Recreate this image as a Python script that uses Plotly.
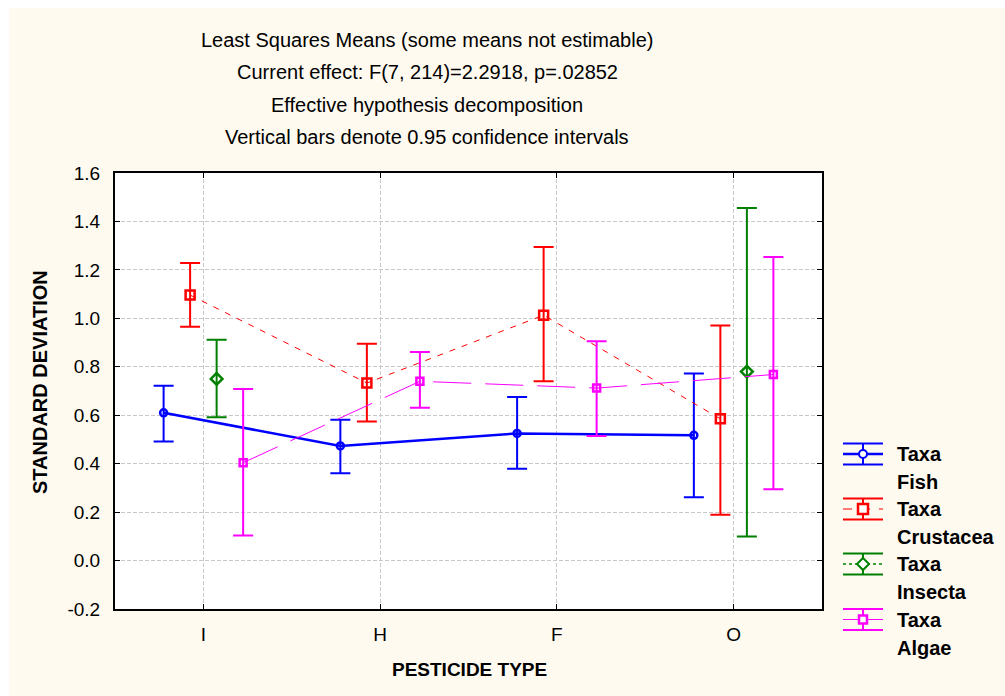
import plotly.graph_objects as go

# ---- data -------------------------------------------------------------
categories = ["I", "H", "F", "O"]

fish_mean = [0.610, 0.473, 0.525, 0.517]
fish_upper = [0.722, 0.581, 0.675, 0.772]
fish_lower = [0.492, 0.360, 0.379, 0.261]

crus_mean = [1.096, 0.733, 1.013, 0.585]
crus_upper = [1.228, 0.895, 1.294, 0.970]
crus_lower = [0.965, 0.574, 0.740, 0.189]

insect_mean = [0.750, None, None, 0.780]
insect_upper = [0.912, None, None, 1.455]
insect_lower = [0.592, None, None, 0.099]

algae_mean = [0.404, 0.740, 0.712, 0.768]
algae_upper = [0.708, 0.861, 0.905, 1.253]
algae_lower = [0.103, 0.631, 0.514, 0.294]

y_tick_values = [-0.2, 0.0, 0.2, 0.4, 0.6, 0.8, 1.0, 1.2, 1.4, 1.6]
y_tick_labels = ["-0.2", "0.0", "0.2", "0.4", "0.6", "0.8", "1.0", "1.2", "1.4", "1.6"]

title_lines = [
    "Least Squares Means (some means not estimable)",
    "Current effect: F(7, 214)=2.2918, p=.02852",
    "Effective hypothesis decomposition",
    "Vertical bars denote 0.95 confidence intervals",
]

# ---- layout geometry (pixels) -----------------------------------------
W, H = 1005, 696
L, R, T, B = 115, 822, 173, 609
FONT = "Liberation Sans, Arial, sans-serif"
BG = "#fffaf0"


def px(x):
    return (x - L) / (R - L)


def py(y):
    return (B - y) / (B - T)


def err_up(mean, upper):
    return [None if m is None else u - m for m, u in zip(mean, upper)]


def err_dn(mean, lower):
    return [None if m is None else m - lo for m, lo in zip(mean, lower)]


series = [
    dict(name="Fish", mean=fish_mean, up=fish_upper, lo=fish_lower, off=-0.225,
         color="#0000ff", lw=2.5, dash="solid", leg_dash="solid",
         symbol="circle-open", msize=7),
    dict(name="Crustacea", mean=crus_mean, up=crus_upper, lo=crus_lower, off=-0.075,
         color="#ff0000", lw=1, dash="6px,7px", leg_dash="dash",
         symbol="square-open", msize=9),
    dict(name="Insecta", mean=insect_mean, up=insect_upper, lo=insect_lower, off=0.075,
         color="#008000", lw=1.5, dash="dot", leg_dash="dot",
         symbol="diamond-open", msize=9),
    dict(name="Algae", mean=algae_mean, up=algae_upper, lo=algae_lower, off=0.225,
         color="#ff00ff", lw=1, dash="38px,14px", leg_dash="solid",
         symbol="square-open", msize=7),
]

fig = go.Figure()
for s in series:
    xs = [i + s["off"] for i in range(len(categories))]
    fig.add_trace(go.Scatter(
        x=xs, y=s["mean"], name="Taxa " + s["name"], mode="lines+markers",
        connectgaps=False,
        line=dict(color=s["color"], width=s["lw"], dash=s["dash"]),
        marker=dict(symbol=s["symbol"], size=s["msize"], color=s["color"],
                    line=dict(width=2.5, color=s["color"])),
        error_y=dict(type="data", symmetric=False,
                     array=err_up(s["mean"], s["up"]),
                     arrayminus=err_dn(s["mean"], s["lo"]),
                     color=s["color"], thickness=2, width=10),
        showlegend=False,
    ))

shapes = []
annotations = []

# thin white strips along the top and left edges
shapes.append(dict(type="rect", xref="paper", yref="paper", layer="below",
                   x0=px(0), x1=px(W), y0=py(0), y1=py(8),
                   fillcolor="white", line=dict(width=0)))
shapes.append(dict(type="rect", xref="paper", yref="paper", layer="below",
                   x0=px(0), x1=px(9), y0=py(0), y1=py(H),
                   fillcolor="white", line=dict(width=0)))

# stacked title lines
for i, line in enumerate(title_lines):
    annotations.append(dict(text=line, xref="paper", yref="paper",
                            x=px(427), y=py(40 + i * 32.3), showarrow=False,
                            xanchor="center", yanchor="middle",
                            font=dict(family=FONT, size=20, color="black")))

# axis titles
annotations.append(dict(text="<b>STANDARD DEVIATION</b>", xref="paper", yref="paper",
                        x=px(40), y=py(382), textangle=-90, showarrow=False,
                        xanchor="center", yanchor="middle",
                        font=dict(family=FONT, size=20, color="black")))
annotations.append(dict(text="<b>PESTICIDE TYPE</b>", xref="paper", yref="paper",
                        x=px(469), y=py(669), showarrow=False,
                        xanchor="center", yanchor="middle",
                        font=dict(family=FONT, size=19, color="black")))

# legend drawn with shapes: caps, stem, series line, marker
leg_centers = [454, 509, 564, 619.5]
x0, x1, xm = 843, 883, 863
for s, c in zip(series, leg_centers):
    col = s["color"]
    for yy in (c - 10.5, c + 10.5):
        shapes.append(dict(type="line", xref="paper", yref="paper",
                           x0=px(x0), x1=px(x1), y0=py(yy), y1=py(yy),
                           line=dict(color=col, width=2)))
    shapes.append(dict(type="line", xref="paper", yref="paper",
                       x0=px(xm), x1=px(xm), y0=py(c - 10.5), y1=py(c + 10.5),
                       line=dict(color=col, width=2)))
    shapes.append(dict(type="line", xref="paper", yref="paper",
                       x0=px(x0), x1=px(x1), y0=py(c), y1=py(c),
                       line=dict(color=col, width=s["lw"], dash=s["leg_dash"])))
    r = {"Fish": 4, "Crustacea": 5, "Insecta": 6, "Algae": 4}[s["name"]]
    if s["name"] == "Fish":
        shapes.append(dict(type="circle", xref="paper", yref="paper",
                           x0=px(xm - r), x1=px(xm + r), y0=py(c - r), y1=py(c + r),
                           fillcolor="white", line=dict(color=col, width=2)))
    elif s["name"] == "Insecta":
        path = "M {} {} L {} {} L {} {} L {} {} Z".format(
            px(xm), py(c - r), px(xm + r), py(c), px(xm), py(c + r), px(xm - r), py(c))
        shapes.append(dict(type="path", xref="paper", yref="paper", path=path,
                           fillcolor="white", line=dict(color=col, width=2)))
    else:
        shapes.append(dict(type="rect", xref="paper", yref="paper",
                           x0=px(xm - r), x1=px(xm + r), y0=py(c - r), y1=py(c + r),
                           fillcolor="white", line=dict(color=col, width=2.5)))
    annotations.append(dict(text="<b>Taxa</b>", xref="paper", yref="paper",
                            x=px(895), y=py(c), showarrow=False,
                            xanchor="left", yanchor="middle",
                            font=dict(family=FONT, size=20, color="black")))
    annotations.append(dict(text="<b>" + s["name"] + "</b>", xref="paper", yref="paper",
                            x=px(895), y=py(c + 28), showarrow=False,
                            xanchor="left", yanchor="middle",
                            font=dict(family=FONT, size=20, color="black")))

grid = dict(showgrid=True, gridcolor="#c8c8c8", gridwidth=1, griddash="4px,2px")
fig.update_layout(
    width=W, height=H,
    margin=dict(l=L, r=W - R, t=T, b=H - B, pad=0),
    paper_bgcolor=BG, plot_bgcolor="white",
    font=dict(family=FONT, size=19, color="black"),
    xaxis=dict(range=[-0.5, 3.5], tickvals=list(range(len(categories))),
               ticktext=categories, ticks="inside", ticklen=5, tickcolor="black",
               showline=True, linecolor="black", linewidth=2, mirror="ticks",
               zeroline=False, ticklabelstandoff=7, **grid),
    yaxis=dict(range=[-0.2, 1.6], tickvals=y_tick_values, ticktext=y_tick_labels,
               ticks="inside", ticklen=5, tickcolor="black",
               showline=True, linecolor="black", linewidth=2, mirror="ticks",
               zeroline=False, ticklabelstandoff=9, **grid),
    shapes=shapes, annotations=annotations, showlegend=False,
)

fig.write_html("out.html")
